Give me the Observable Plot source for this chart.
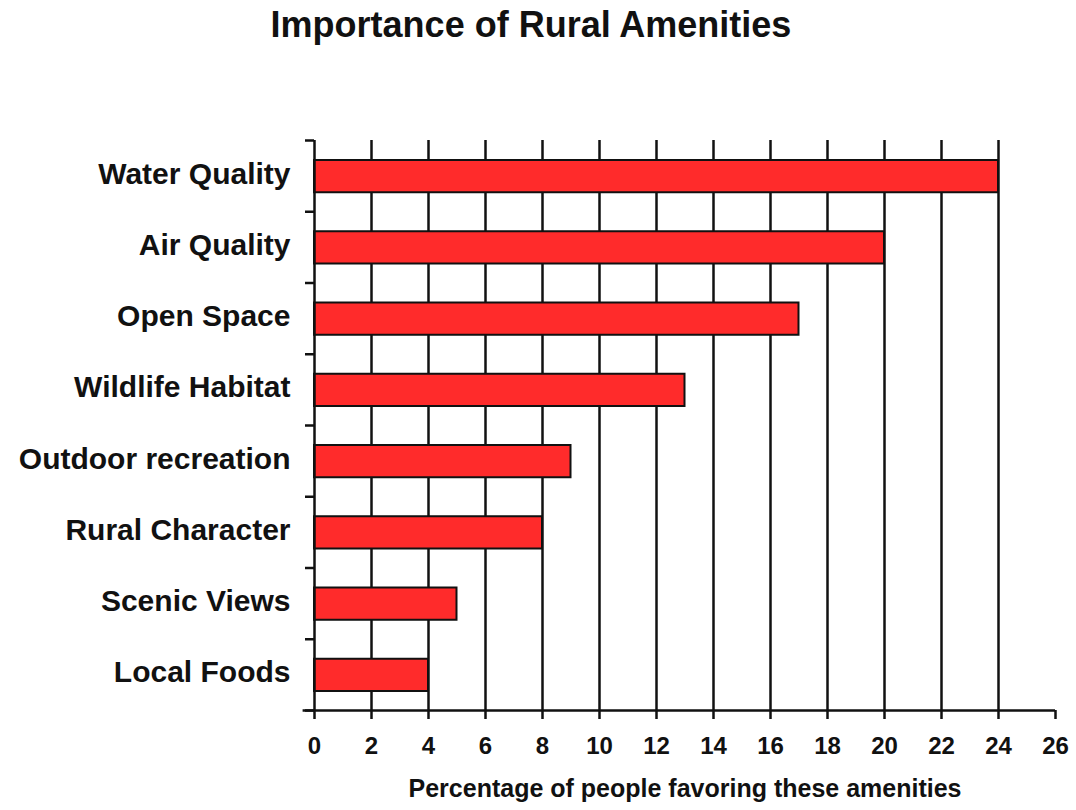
<!DOCTYPE html>
<html>
<head>
<meta charset="utf-8">
<script src="https://cdn.jsdelivr.net/npm/d3@7"></script>
<script src="https://cdn.jsdelivr.net/npm/@observablehq/plot@0.6"></script>
<style>
  body { margin: 0; background: #fff; font-family: "Liberation Sans", Arial, sans-serif; }
  #title { width: 1062px; height: 60px; line-height: 50px; text-align: center; font-weight: bold; font-size: 36px; color: #111; }
</style>
</head>
<body>
<div id="title">Importance of Rural Amenities</div>
<div id="chart"></div>
<script>
// Share of respondents favoring each rural amenity (%)
const amenities = ["Water Quality", "Air Quality", "Open Space", "Wildlife Habitat",
                   "Outdoor recreation", "Rural Character", "Scenic Views", "Local Foods"];
const percentages = [24, 20, 17, 13, 9, 8, 5, 4];
const xTicks = d3.range(0, 27, 2);
const gridValues = d3.range(2, 25, 2);
const axisLabel = "Percentage of people favoring these amenities";

const rows = amenities.map((name, i) => ({ name, value: percentages[i], i }));
const ink = "#111";

const chart = Plot.plot({
  width: 1076,
  height: 750,
  marginTop: 80,
  marginBottom: 100,
  marginLeft: 314,
  marginRight: 21,
  style: { fontFamily: '"Liberation Sans", Arial, sans-serif', fontWeight: "bold", color: ink, background: "#fff" },
  x: { domain: [0, 26] },
  y: { domain: [0, amenities.length], reverse: true },
  marks: [
    // vertical grid lines
    Plot.ruleX(gridValues, { y1: 0, y2: amenities.length, stroke: ink, strokeWidth: 2.5 }),
    // bars: each amenity occupies one unit row
    Plot.rectX(rows, {
      x1: 0, x2: "value", y1: "i", y2: d => d.i + 1,
      insetTop: 20, insetBottom: 19,
      fill: "#ff2b2b", stroke: ink, strokeWidth: 2
    }),
    // axis lines
    Plot.ruleX([0], { y1: 0, y2: amenities.length, stroke: ink, strokeWidth: 2.5 }),
    Plot.ruleY([amenities.length], { x1: -0.4, x2: 26, stroke: ink, strokeWidth: 2.5 }),
    // row boundary ticks on the left axis
    Plot.axisY({ ticks: d3.range(0, amenities.length + 1), tickSize: 9, tickFormat: () => "", strokeWidth: 2.5, label: null }),
    // category labels at row centres
    Plot.axisY({
      ticks: rows.map(d => d.i + 0.5), tickSize: 0, tickPadding: 24, dy: -2,
      tickFormat: d => amenities[Math.floor(d)], fontSize: 30, label: null
    }),
    // x axis ticks and labels
    Plot.axisX({ ticks: xTicks, tickSize: 9, tickPadding: 17, fontSize: 24, strokeWidth: 2.5, label: null }),
    Plot.text([axisLabel], { frameAnchor: "bottom", dy: 86, fontSize: 25, fontWeight: "bold", fill: ink })
  ]
});

document.getElementById("chart").append(chart);
</script>
</body>
</html>
